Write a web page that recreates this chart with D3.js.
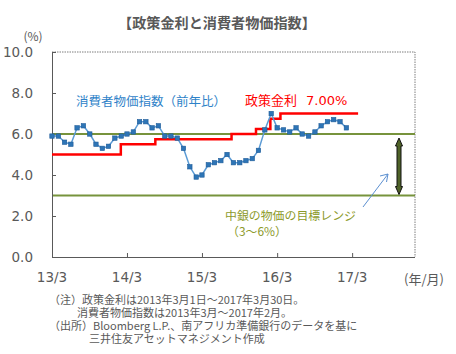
<!DOCTYPE html>
<html>
<head>
<meta charset="utf-8">
<script src="https://cdn.jsdelivr.net/npm/d3@7"></script>
<style>
  body { margin: 0; background: #fff; }
  svg { display: block; }
  text { font-family: "Noto Sans CJK JP", "DejaVu Sans", sans-serif; }
</style>
</head>
<body>
<svg id="chart" width="456" height="354"></svg>
<script>
// data
let cpiStart = "2013-03-01";
let cpiValues = [
    5.9, 5.9, 5.6, 5.5, 6.3, 6.4, 6.0, 5.5, 5.3, 5.4,
    5.8, 5.9, 6.0, 6.1, 6.6, 6.6, 6.3, 6.4, 5.9, 5.9, 5.8, 5.3,
    4.4, 3.9, 4.0, 4.5, 4.6, 4.7, 5.0, 4.6, 4.6, 4.7, 4.8, 5.2,
    6.2, 7.0, 6.3, 6.2, 6.1, 6.3, 6.0, 5.9, 6.1, 6.4, 6.6, 6.7,
    6.6, 6.3
];
let rateDates = ["2013-03-01", "2014-01-30", "2014-07-17", "2015-07-23",
    "2015-11-19", "2016-01-28", "2016-03-17", "2017-03-30"];
let rateValues = [5.0, 5.5, 5.75, 6.0, 6.25, 6.75, 7.0, 7.0];
let targetRange = [3, 6];
let xTickDates = ["2013-03-01", "2014-03-01", "2015-03-01", "2016-03-01", "2017-03-01"];
let xTickLabels = ["13/3", "14/3", "15/3", "16/3", "17/3"];
let yTicks = [0, 2, 4, 6, 8, 10];
let notes = [
    {x: 49, text: "（注）政策金利は2013年3月1日～2017年3月30日。"},
    {x: 77, text: "消費者物価指数は2013年3月～2017年2月。"},
    {x: 49, text: "（出所）Bloomberg L.P.、南アフリカ準備銀行のデータを基に"},
    {x: 89, text: "三井住友アセットマネジメント作成"}
];

let svg = d3.select("#chart");
let plotLeft = 52, plotRight = 415, plotTop = 52, plotBottom = 257;
let gray = "#595959";

let parse = d3.utcParse("%Y-%m-%d");
let xScale = d3.scaleUtc()
    .domain([parse("2013-03-01"), parse("2018-01-01")])
    .range([plotLeft, plotRight]);
let yScale = d3.scaleLinear().domain([0, 10]).range([plotBottom, plotTop]);

let cpiData = cpiValues.map((v, i) => ({date: d3.utcMonth.offset(parse(cpiStart), i), value: v}));
let rateData = rateDates.map((d, i) => ({date: parse(d), value: rateValues[i]}));

// scale a text's font so it spans about the given width
function fitWidth(sel, width) {
    let size = parseFloat(sel.style("font-size"));
    let w = sel.node().getComputedTextLength();
    if (w > 0) sel.style("font-size", (size * width / w).toFixed(2) + "px");
}

// title
let title = svg.append("text")
    .attr("x", 217).attr("y", 28)
    .attr("text-anchor", "middle")
    .style("font-size", "14px").style("font-weight", "bold")
    .attr("fill", gray)
    .text("【政策金利と消費者物価指数】");
fitWidth(title, 198);

svg.append("text")
    .attr("x", 33).attr("y", 41)
    .attr("text-anchor", "middle")
    .style("font-size", "12px").attr("fill", gray)
    .text("(%)");

// frame: top and right dotted
svg.append("path")
    .attr("d", `M${plotLeft},${plotTop}H${plotRight}V${plotBottom}`)
    .attr("fill", "none").attr("stroke", "#7f7f7f")
    .attr("stroke-width", 1).attr("stroke-dasharray", "1.5,1");

// axes
let yAxis = d3.axisRight(yScale).tickValues(yTicks).tickSize(4).tickFormat("");
svg.append("g").attr("transform", `translate(${plotLeft},0)`).call(yAxis)
    .call(g => g.select(".domain").attr("stroke", gray).attr("d", `M0.5,${plotTop}V${plotBottom}`))
    .call(g => g.selectAll(".tick line").attr("stroke", gray));

svg.selectAll(".ylab").data(yTicks).enter().append("text")
    .attr("class", "ylab")
    .attr("x", 33).attr("y", d => yScale(d) + 5)
    .attr("text-anchor", "end")
    .style("font-family", "'DejaVu Sans', sans-serif")
    .style("font-size", "13.5px").attr("fill", gray)
    .text(d3.format(".1f"));

let xAxis = d3.axisTop(xScale).tickValues(xTickDates.map(parse)).tickSize(4).tickFormat("");
svg.append("g").attr("transform", `translate(0,${plotBottom})`).call(xAxis)
    .call(g => g.select(".domain").attr("stroke", gray).attr("d", `M${plotLeft},0.5H${plotRight}`))
    .call(g => g.selectAll(".tick line").attr("stroke", gray));

svg.selectAll(".xlab").data(xTickDates).enter().append("text")
    .attr("class", "xlab")
    .attr("x", d => xScale(parse(d))).attr("y", 282)
    .attr("text-anchor", "middle")
    .style("font-family", "'DejaVu Sans', sans-serif")
    .style("font-size", "13.5px").attr("fill", gray)
    .text((d, i) => xTickLabels[i]);

svg.append("text")
    .attr("x", 424).attr("y", 284)
    .attr("text-anchor", "middle")
    .style("font-size", "13px").attr("fill", gray)
    .text("(年/月)");

// target range lines
svg.selectAll(".target").data(targetRange).enter().append("line")
    .attr("x1", plotLeft + 1).attr("x2", plotRight)
    .attr("y1", d => yScale(d)).attr("y2", d => yScale(d))
    .attr("stroke", "#77933c").attr("stroke-width", 2);

// policy rate
let rateLine = d3.line()
    .x(d => xScale(d.date)).y(d => yScale(d.value))
    .curve(d3.curveStepAfter);
svg.append("path").datum(rateData)
    .attr("d", rateLine)
    .attr("fill", "none").attr("stroke", "#ff0000").attr("stroke-width", 2.5);

// cpi
let cpiLine = d3.line().x(d => xScale(d.date)).y(d => yScale(d.value));
svg.append("path").datum(cpiData)
    .attr("d", cpiLine)
    .attr("fill", "none").attr("stroke", "#5b9bd5").attr("stroke-width", 1.5);
svg.selectAll(".pt").data(cpiData).enter().append("rect")
    .attr("class", "pt")
    .attr("x", d => xScale(d.date) - 2.2).attr("y", d => yScale(d.value) - 2.2)
    .attr("width", 4.4).attr("height", 4.4)
    .attr("fill", "#2e75b6").attr("stroke", "#1f5c99").attr("stroke-width", 0.6);

// labels in the plot
let cpiLabel = svg.append("text")
    .attr("x", 76).attr("y", 106)
    .style("font-size", "13px").attr("fill", "#2e82c8")
    .text("消費者物価指数（前年比）");
fitWidth(cpiLabel, 150);

svg.append("text")
    .attr("x", 245).attr("y", 105)
    .style("font-size", "13px").attr("fill", "#ff0000")
    .text("政策金利 ");
svg.append("text")
    .attr("x", 306).attr("y", 105)
    .style("font-size", "13px").attr("fill", "#ff0000")
    .style("font-family", "'DejaVu Sans', sans-serif")
    .text("7.00%");

let rangeLabel = svg.append("text")
    .attr("x", 225).attr("y", 220)
    .style("font-size", "13.5px").attr("fill", "#8c9a2a")
    .text("中銀の物価の目標レンジ");
fitWidth(rangeLabel, 131);
svg.append("text")
    .attr("x", 227).attr("y", 236)
    .style("font-size", rangeLabel.style("font-size")).attr("fill", "#8c9a2a")
    .text("（3～6%）");

// double arrow for the target range
let ax = 399, ay1 = yScale(targetRange[1]) + 4, ay2 = yScale(targetRange[0]) - 1;
svg.append("path")
    .attr("d", `M${ax},${ay1} L${ax + 3.5},${ay1 + 8} L${ax + 2},${ay1 + 8} L${ax + 2},${ay2 - 8}
        L${ax + 3.5},${ay2 - 8} L${ax},${ay2} L${ax - 3.5},${ay2 - 8} L${ax - 2},${ay2 - 8}
        L${ax - 2},${ay1 + 8} L${ax - 3.5},${ay1 + 8} Z`)
    .attr("fill", "#4f6228").attr("stroke", "#111").attr("stroke-width", 1);

// thin pointer arrow
svg.append("line")
    .attr("x1", 363).attr("y1", 207).attr("x2", 388).attr("y2", 174)
    .attr("stroke", "#5b8fd0").attr("stroke-width", 1);
svg.append("path")
    .attr("d", "M380,176 L388,174 L386.5,182")
    .attr("fill", "none").attr("stroke", "#5b8fd0").attr("stroke-width", 1);

// notes
svg.selectAll(".note").data(notes).enter().append("text")
    .attr("class", "note")
    .attr("x", d => d.x).attr("y", (d, i) => 304 + i * 13)
    .style("font-size", "11px").attr("fill", gray)
    .text(d => d.text);
</script>
</body>
</html>
